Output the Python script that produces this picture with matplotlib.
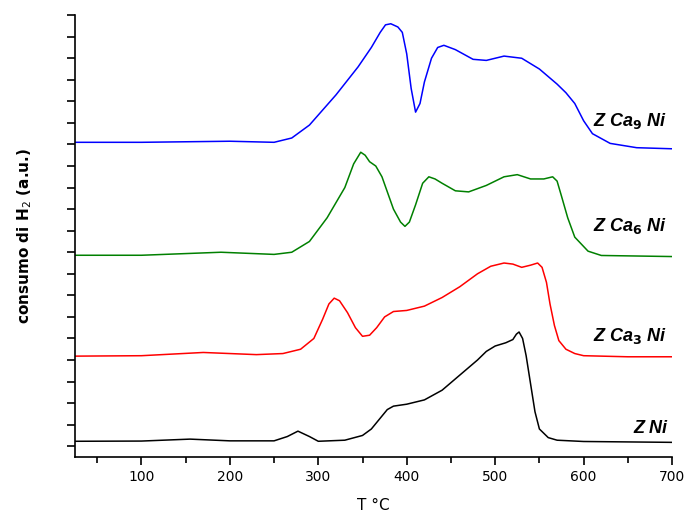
import matplotlib.pyplot as plt
import numpy as np
from matplotlib.ticker import MultipleLocator

# TPR profiles (arbitrary units, stacked)
t_zni = [25, 100, 155, 200, 250, 265, 277, 290, 300, 330, 350, 360, 370, 378, 385, 400, 420, 440, 460, 480, 490, 500, 512, 520, 524, 527, 531, 535, 540, 545, 550, 560, 570, 600, 650, 700]
y_zni = [0.23, 0.24, 0.33, 0.25, 0.25, 0.45, 0.7, 0.45, 0.23, 0.28, 0.5, 0.8, 1.3, 1.7, 1.86, 1.95, 2.15, 2.6, 3.3, 4.0, 4.4, 4.65, 4.8, 4.95, 5.2, 5.3, 5.0, 4.2, 2.9, 1.6, 0.8, 0.4, 0.28, 0.22, 0.2, 0.18]
t_zca3 = [25, 100, 170, 230, 260, 280, 295, 305, 312, 318, 324, 333, 342, 350, 358, 366, 375, 385, 400, 420, 440, 460, 480, 495, 510, 520, 530, 540, 548, 553, 558, 562, 567, 572, 580, 590, 600, 650, 700]
y_zca3 = [4.18, 4.2, 4.35, 4.25, 4.3, 4.5, 5.0, 5.9, 6.6, 6.87, 6.75, 6.2, 5.5, 5.1, 5.15, 5.5, 6.0, 6.25, 6.3, 6.5, 6.9, 7.4, 8.0, 8.35, 8.5, 8.45, 8.3, 8.4, 8.5, 8.3, 7.6, 6.6, 5.6, 4.9, 4.5, 4.3, 4.2, 4.15, 4.15]
t_zca6 = [25, 100, 190, 250, 270, 290, 310, 330, 340, 348, 353, 358, 365, 372, 385, 393, 398, 403, 410, 418, 425, 432, 440, 455, 470, 490, 510, 525, 540, 555, 565, 570, 575, 582, 590, 605, 620, 700]
y_zca6 = [8.86, 8.86, 9.0, 8.9, 9.0, 9.5, 10.6, 12.0, 13.1, 13.64, 13.5, 13.2, 13.0, 12.5, 11.0, 10.4, 10.2, 10.4, 11.2, 12.2, 12.5, 12.4, 12.2, 11.85, 11.8, 12.1, 12.5, 12.6, 12.4, 12.4, 12.5, 12.3, 11.6, 10.6, 9.7, 9.05, 8.85, 8.8]
t_zca9 = [25, 100, 200, 250, 270, 290, 320, 345, 360, 370, 376, 382, 390, 395, 400, 405, 410, 415, 420, 428, 435, 442, 455, 475, 490, 510, 530, 550, 570, 580, 590, 600, 610, 630, 660, 700]
y_zca9 = [14.1, 14.1, 14.15, 14.1, 14.3, 14.9, 16.3, 17.6, 18.5, 19.2, 19.55, 19.6, 19.45, 19.2, 18.2, 16.6, 15.5, 15.9, 16.9, 18.0, 18.5, 18.6, 18.4, 17.95, 17.9, 18.1, 18.0, 17.5, 16.8, 16.4, 15.9, 15.1, 14.5, 14.05, 13.85, 13.8]

labels = ['Z Ni', 'Z Ca$_\\mathbf{3}$ Ni', 'Z Ca$_\\mathbf{6}$ Ni', 'Z Ca$_\\mathbf{9}$ Ni']
label_y = [0.8, 5.1, 10.2, 15.1]
colors = ['black', 'red', 'green', 'blue']

fig = plt.figure(figsize=(6.95, 5.22), dpi=100)
ax = fig.add_axes([0.108, 0.1245, 0.859, 0.8465])
curves = [(t_zni, y_zni), (t_zca3, y_zca3), (t_zca6, y_zca6), (t_zca9, y_zca9)]
for (t, y), c, lab, ly in zip(curves, colors, labels, label_y):
    ax.plot(t, y, color=c, lw=1.1)
    ax.text(695, ly, lab, color='black', fontsize=13, fontweight='bold', style='italic',
            family='Liberation Sans', ha='right', va='center', clip_on=False)

ax.set_xlim(25, 700)
ax.set_ylim(-0.5, 20)
ax.xaxis.set_major_locator(MultipleLocator(100))
ax.xaxis.set_minor_locator(MultipleLocator(50))
ax.yaxis.set_major_locator(MultipleLocator(1))
ax.set_yticklabels([])
ax.tick_params(axis='both', direction='out', length=6, width=1.2)
ax.tick_params(axis='x', which='minor', length=4, width=1.2)
ax.tick_params(axis='x', labelsize=10)
ax.spines['top'].set_visible(False)
ax.spines['right'].set_visible(False)
for s in ['left', 'bottom']:
    ax.spines[s].set_linewidth(1.2)
ax.set_xlabel('T °C', fontsize=11, labelpad=10)
ax.set_ylabel('consumo di H$_2$ (a.u.)', fontsize=11, fontweight='bold', labelpad=20)
fig.savefig('out.png', dpi=100)
